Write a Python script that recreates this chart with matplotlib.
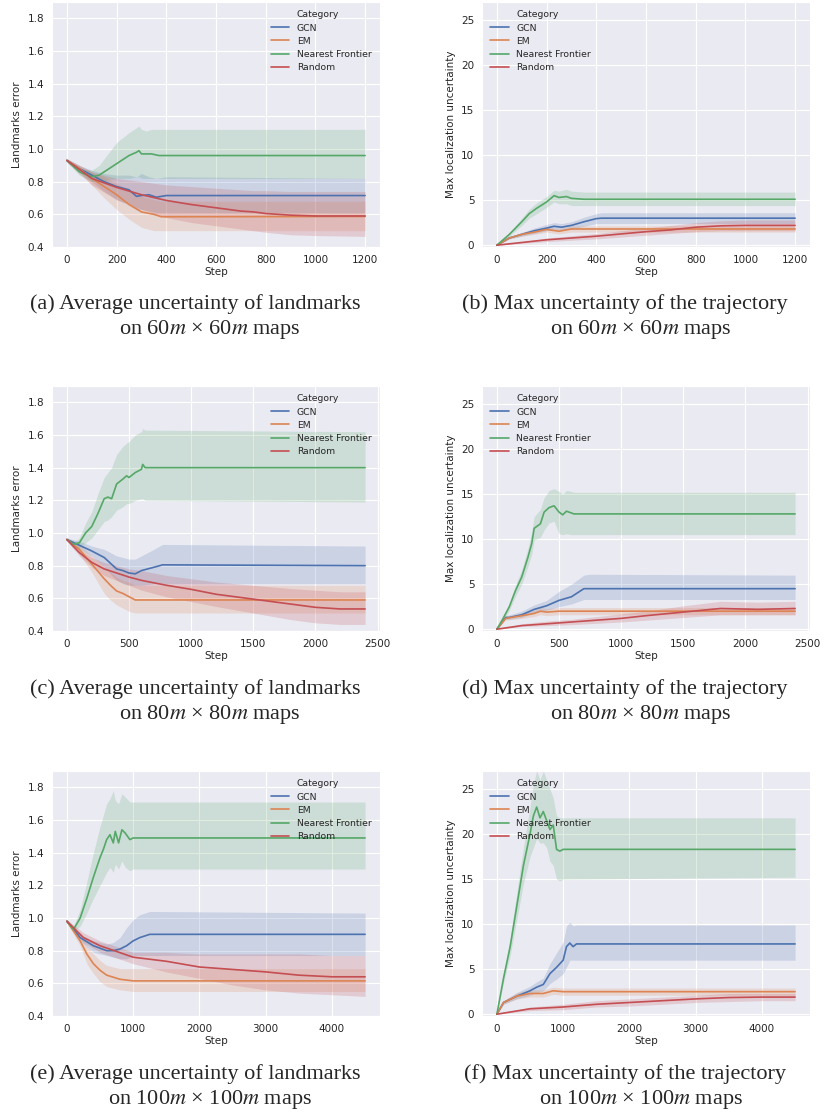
import matplotlib
matplotlib.use('Agg')
import matplotlib.pyplot as plt
import seaborn as sns
from matplotlib.lines import Line2D

sns.set_style('darkgrid')
plt.rcParams['font.family'] = ['DejaVu Sans']
plt.rcParams['mathtext.fontset'] = 'stix'

categories = ['GCN', 'EM', 'Nearest Frontier', 'Random']
colours = ['#4c72b0', '#dd8452', '#55a868', '#c44e52']

# rows are (step, mean, lower, upper)
# (a) landmarks error, 60m maps
a_gcn = [(0, 0.93, 0.92, 0.94), (50, 0.88, 0.86, 0.90), (100, 0.84, 0.80, 0.87),
         (150, 0.80, 0.74, 0.85), (200, 0.77, 0.69, 0.84), (250, 0.75, 0.66, 0.84),
         (280, 0.71, 0.63, 0.83), (300, 0.715, 0.63, 0.85), (330, 0.72, 0.62, 0.83),
         (360, 0.705, 0.61, 0.82), (400, 0.715, 0.61, 0.83), (1200, 0.715, 0.61, 0.82)]
a_em = [(0, 0.93, 0.92, 0.94), (50, 0.88, 0.86, 0.90), (100, 0.82, 0.78, 0.86),
        (150, 0.77, 0.70, 0.83), (200, 0.72, 0.63, 0.79), (250, 0.66, 0.57, 0.75),
        (300, 0.615, 0.52, 0.71), (350, 0.60, 0.50, 0.69), (380, 0.585, 0.50, 0.68),
        (1200, 0.587, 0.50, 0.68)]
a_nf = [(0, 0.93, 0.92, 0.94), (50, 0.86, 0.84, 0.88), (100, 0.83, 0.80, 0.87),
        (130, 0.84, 0.80, 0.90), (160, 0.87, 0.81, 0.96), (200, 0.91, 0.82, 1.04),
        (250, 0.96, 0.82, 1.10), (280, 0.98, 0.83, 1.13), (290, 0.99, 0.83, 1.14),
        (300, 0.97, 0.82, 1.12), (320, 0.97, 0.82, 1.11), (340, 0.97, 0.82, 1.12),
        (370, 0.96, 0.82, 1.12), (1200, 0.96, 0.82, 1.12)]
a_rand = [(0, 0.93, 0.92, 0.94), (100, 0.82, 0.78, 0.86), (200, 0.765, 0.69, 0.82),
          (300, 0.72, 0.63, 0.80), (400, 0.685, 0.58, 0.78), (500, 0.66, 0.55, 0.77),
          (600, 0.64, 0.53, 0.76), (700, 0.62, 0.51, 0.75), (750, 0.615, 0.50, 0.745),
          (800, 0.605, 0.49, 0.745), (900, 0.595, 0.475, 0.74), (1000, 0.59, 0.47, 0.74),
          (1200, 0.59, 0.465, 0.74)]

# (b) max localization uncertainty, 60m maps
b_gcn = [(0, 0, 0, 0), (50, 0.8, 0.7, 0.9), (100, 1.2, 1.0, 1.4), (150, 1.6, 1.3, 1.9),
         (200, 1.9, 1.6, 2.3), (230, 2.1, 1.8, 2.5), (260, 2.0, 1.7, 2.4),
         (300, 2.2, 1.8, 2.6), (350, 2.6, 2.1, 3.1), (400, 2.95, 2.4, 3.5),
         (420, 3.0, 2.4, 3.6), (1200, 3.0, 2.4, 3.6)]
b_em = [(0, 0, 0, 0), (50, 0.8, 0.7, 0.9), (100, 1.2, 1.0, 1.4), (150, 1.45, 1.2, 1.7),
        (200, 1.75, 1.45, 2.05), (250, 1.55, 1.25, 1.85), (300, 1.8, 1.45, 2.15),
        (400, 1.8, 1.45, 2.15), (1200, 1.8, 1.45, 2.15)]
b_nf = [(0, 0, 0, 0), (50, 1.2, 1.0, 1.4), (100, 2.6, 2.2, 3.0), (130, 3.5, 3.0, 4.0),
        (160, 4.1, 3.5, 4.7), (200, 4.8, 4.2, 5.4), (230, 5.5, 4.8, 6.1),
        (250, 5.3, 4.6, 6.0), (280, 5.4, 4.6, 6.2), (300, 5.2, 4.4, 6.0),
        (350, 5.1, 4.4, 5.9), (1200, 5.1, 4.4, 5.9)]
b_rand = [(0, 0, 0, 0), (200, 0.6, 0.4, 0.8), (400, 1.0, 0.7, 1.3), (600, 1.5, 1.1, 1.9),
          (700, 1.7, 1.3, 2.2), (800, 2.0, 1.5, 2.5), (900, 2.15, 1.6, 2.7),
          (1000, 2.2, 1.6, 2.8), (1200, 2.2, 1.6, 2.8)]

# (c) landmarks error, 80m maps
c_gcn = [(0, 0.96, 0.95, 0.97), (100, 0.925, 0.90, 0.95), (200, 0.89, 0.86, 0.92),
         (300, 0.85, 0.79, 0.90), (400, 0.78, 0.71, 0.86), (450, 0.77, 0.69, 0.85),
         (500, 0.755, 0.68, 0.84), (550, 0.75, 0.68, 0.84), (600, 0.77, 0.68, 0.86),
         (700, 0.79, 0.69, 0.90), (770, 0.805, 0.69, 0.93), (2400, 0.80, 0.69, 0.92)]
c_em = [(0, 0.96, 0.95, 0.97), (100, 0.90, 0.87, 0.93), (200, 0.81, 0.76, 0.86),
        (300, 0.72, 0.63, 0.79), (350, 0.68, 0.59, 0.76), (400, 0.645, 0.56, 0.73),
        (450, 0.63, 0.54, 0.71), (500, 0.61, 0.52, 0.70), (550, 0.59, 0.51, 0.68),
        (2400, 0.59, 0.51, 0.68)]
c_nf = [(0, 0.96, 0.95, 0.97), (50, 0.93, 0.92, 0.94), (100, 0.94, 0.91, 0.97),
        (150, 1.00, 0.94, 1.06), (200, 1.04, 0.97, 1.13), (250, 1.12, 1.02, 1.24),
        (300, 1.21, 1.07, 1.34), (330, 1.22, 1.08, 1.37), (360, 1.21, 1.10, 1.40),
        (400, 1.30, 1.14, 1.48), (450, 1.33, 1.16, 1.53), (480, 1.35, 1.18, 1.55),
        (500, 1.34, 1.18, 1.56), (550, 1.37, 1.20, 1.60), (600, 1.39, 1.21, 1.62),
        (610, 1.42, 1.21, 1.64), (630, 1.40, 1.20, 1.63), (2400, 1.40, 1.19, 1.62)]
c_rand = [(0, 0.96, 0.95, 0.97), (100, 0.88, 0.86, 0.90), (200, 0.82, 0.79, 0.85),
          (300, 0.78, 0.74, 0.82), (400, 0.755, 0.71, 0.80), (500, 0.73, 0.68, 0.78),
          (600, 0.71, 0.65, 0.77), (800, 0.68, 0.61, 0.74), (1000, 0.655, 0.58, 0.72),
          (1200, 0.625, 0.55, 0.70), (1500, 0.595, 0.51, 0.68), (1800, 0.565, 0.47, 0.66),
          (2000, 0.545, 0.45, 0.65), (2200, 0.535, 0.44, 0.64), (2400, 0.535, 0.44, 0.64)]

# (d) max localization uncertainty, 80m maps
d_gcn = [(0, 0, 0, 0), (70, 1.3, 1.1, 1.5), (100, 1.3, 1.1, 1.6), (200, 1.6, 1.3, 2.0),
         (300, 2.2, 1.8, 2.7), (400, 2.6, 2.1, 3.2), (500, 3.2, 2.5, 4.2),
         (600, 3.6, 2.8, 5.0), (700, 4.5, 3.3, 6.0), (750, 4.5, 3.3, 6.1),
         (2400, 4.5, 3.3, 6.0)]
d_em = [(0, 0, 0, 0), (70, 1.2, 1.0, 1.4), (200, 1.5, 1.2, 1.8), (300, 1.75, 1.4, 2.1),
        (350, 2.0, 1.6, 2.4), (400, 1.9, 1.5, 2.3), (500, 2.0, 1.6, 2.4),
        (2400, 2.0, 1.6, 2.4)]
d_nf = [(0, 0, 0, 0), (50, 1.2, 1.0, 1.4), (100, 2.5, 2.1, 2.9), (150, 4.3, 3.7, 4.9),
        (200, 5.8, 5.0, 6.6), (250, 8.0, 7.0, 9.0), (280, 9.5, 8.3, 10.8),
        (300, 11.2, 9.9, 12.5), (350, 11.7, 10.2, 13.3), (380, 13.0, 11.0, 14.6),
        (420, 13.5, 11.8, 15.4), (460, 13.7, 12.0, 15.6), (500, 13.0, 10.6, 15.3),
        (530, 12.7, 10.5, 15.0), (560, 13.1, 10.6, 15.4), (600, 12.9, 10.5, 15.3),
        (620, 12.8, 10.5, 15.2), (2400, 12.8, 10.5, 15.2)]
d_rand = [(0, 0, 0, 0), (200, 0.4, 0.3, 0.6), (400, 0.6, 0.4, 0.9), (600, 0.8, 0.5, 1.1),
          (1000, 1.2, 0.8, 1.7), (1200, 1.5, 1.0, 2.0), (1500, 1.9, 1.3, 2.6),
          (1800, 2.3, 1.6, 3.1), (2100, 2.2, 1.6, 3.0), (2400, 2.3, 1.6, 3.1)]

# (e) landmarks error, 100m maps
e_gcn = [(0, 0.98, 0.97, 0.99), (200, 0.88, 0.86, 0.90), (400, 0.83, 0.79, 0.86),
         (600, 0.80, 0.77, 0.84), (700, 0.80, 0.76, 0.85), (800, 0.81, 0.75, 0.88),
         (900, 0.83, 0.75, 0.94), (1000, 0.86, 0.77, 0.99), (1100, 0.88, 0.77, 1.02),
         (1250, 0.90, 0.77, 1.04), (4500, 0.90, 0.77, 1.03)]
e_em = [(0, 0.98, 0.97, 0.99), (200, 0.86, 0.83, 0.89), (300, 0.78, 0.72, 0.83),
        (400, 0.72, 0.66, 0.78), (500, 0.68, 0.61, 0.74), (600, 0.65, 0.58, 0.71),
        (800, 0.625, 0.56, 0.69), (1000, 0.615, 0.55, 0.69), (4500, 0.615, 0.55, 0.69)]
e_nf = [(0, 0.98, 0.97, 0.99), (100, 0.93, 0.92, 0.95), (200, 1.00, 0.95, 1.05),
        (300, 1.12, 1.03, 1.22), (400, 1.25, 1.12, 1.40), (500, 1.37, 1.20, 1.56),
        (550, 1.42, 1.24, 1.63), (600, 1.48, 1.28, 1.70), (650, 1.51, 1.31, 1.73),
        (700, 1.46, 1.28, 1.78), (730, 1.53, 1.33, 1.72), (780, 1.46, 1.30, 1.70),
        (830, 1.54, 1.35, 1.76), (880, 1.52, 1.31, 1.74), (950, 1.48, 1.29, 1.71),
        (1000, 1.49, 1.30, 1.71), (4500, 1.49, 1.30, 1.71)]
e_rand = [(0, 0.98, 0.97, 0.99), (250, 0.88, 0.85, 0.91), (500, 0.83, 0.79, 0.86),
          (1000, 0.76, 0.72, 0.79), (1500, 0.735, 0.67, 0.79), (2000, 0.70, 0.63, 0.78),
          (2500, 0.685, 0.59, 0.78), (3000, 0.67, 0.56, 0.78), (3500, 0.65, 0.54, 0.78),
          (4000, 0.64, 0.53, 0.77), (4500, 0.64, 0.52, 0.77)]

# (f) max localization uncertainty, 100m maps
f_gcn = [(0, 0, 0, 0), (100, 1.3, 1.1, 1.5), (300, 2.0, 1.7, 2.4), (500, 2.6, 2.1, 3.1),
         (600, 3.0, 2.4, 3.6), (700, 3.3, 2.6, 4.0), (800, 4.5, 3.4, 5.6),
         (900, 5.2, 3.9, 6.8), (1000, 6.0, 4.5, 8.0), (1050, 7.5, 5.2, 9.8),
         (1100, 7.9, 6.0, 10.2), (1150, 7.5, 6.0, 9.8), (1200, 7.8, 6.0, 9.9),
         (4500, 7.8, 6.0, 9.9)]
f_em = [(0, 0, 0, 0), (100, 1.3, 1.1, 1.5), (300, 2.0, 1.7, 2.4), (500, 2.3, 1.9, 2.7),
        (700, 2.3, 1.9, 2.7), (850, 2.6, 2.2, 3.0), (1000, 2.5, 2.1, 2.9),
        (4500, 2.5, 2.1, 2.9)]
f_nf = [(0, 0, 0, 0), (100, 4.0, 3.5, 4.5), (200, 7.5, 6.5, 8.5), (300, 12.0, 10.5, 13.5),
        (400, 16.5, 14.5, 18.5), (500, 20.0, 17.5, 23.0), (550, 22.0, 18.5, 25.5),
        (600, 23.0, 19.5, 27.0), (650, 21.8, 19.0, 26.0), (700, 22.5, 19.0, 27.0),
        (750, 21.5, 18.5, 26.0), (800, 20.5, 17.0, 25.0), (850, 21.0, 16.5, 24.0),
        (900, 18.3, 15.0, 22.0), (950, 18.1, 14.8, 21.8), (1000, 18.3, 15.0, 21.8),
        (4500, 18.3, 15.2, 21.8)]
f_rand = [(0, 0, 0, 0), (500, 0.6, 0.4, 0.8), (1000, 0.8, 0.5, 1.1), (1500, 1.1, 0.8, 1.5),
          (2000, 1.3, 0.9, 1.7), (2500, 1.5, 1.1, 1.9), (3000, 1.7, 1.3, 2.1),
          (3500, 1.85, 1.4, 2.3), (4000, 1.9, 1.5, 2.3), (4500, 1.9, 1.5, 2.3)]

captions = [
    ('(a) Average uncertainty of landmarks', 'on 60$m$ × 60$m$ maps'),
    ('(b) Max uncertainty of the trajectory', 'on 60$m$ × 60$m$ maps'),
    ('(c) Average uncertainty of landmarks', 'on 80$m$ × 80$m$ maps'),
    ('(d) Max uncertainty of the trajectory', 'on 80$m$ × 80$m$ maps'),
    ('(e) Average uncertainty of landmarks', 'on 100$m$ × 100$m$ maps'),
    ('(f) Max uncertainty of the trajectory', 'on 100$m$ × 100$m$ maps'),
]

panels = [[a_gcn, a_em, a_nf, a_rand], [b_gcn, b_em, b_nf, b_rand],
          [c_gcn, c_em, c_nf, c_rand], [d_gcn, d_em, d_nf, d_rand],
          [e_gcn, e_em, e_nf, e_rand], [f_gcn, f_em, f_nf, f_rand]]

W, H = 824, 1115
fig = plt.figure(figsize=(8.24, 11.15), dpi=100)

col_left = [52, 482]
row_top = [2, 386, 771]
ax_w, ax_h = 328, 245
fs = 7.5

for i, series in enumerate(panels):
    r, c = i // 2, i % 2
    ax = fig.add_axes([col_left[c] / W, 1 - (row_top[r] + ax_h) / H, ax_w / W, ax_h / H])
    for name, rows, col in zip(categories, series, colours):
        x = [p[0] for p in rows]
        y = [p[1] for p in rows]
        lo = [p[2] for p in rows]
        hi = [p[3] for p in rows]
        ax.fill_between(x, lo, hi, color=col, alpha=0.2, lw=0)
        ax.plot(x, y, color=col, lw=1.2, label=name)
    if c == 0:
        ax.set_ylim(0.4, 1.9)
        ax.set_yticks([0.4, 0.6, 0.8, 1.0, 1.2, 1.4, 1.6, 1.8])
        ax.set_ylabel('Landmarks error', fontsize=fs)
        loc = 'upper right'
    else:
        ax.set_ylim(-0.2, 27)
        ax.set_yticks([0, 5, 10, 15, 20, 25])
        ax.set_ylabel('Max localization uncertainty', fontsize=fs)
        loc = 'upper left'
    ax.set_xlabel('Step', fontsize=fs, labelpad=2)
    ax.tick_params(labelsize=fs, pad=2)
    handles, labels = ax.get_legend_handles_labels()
    blank = Line2D([], [], color='none')
    ax.legend([blank] + handles, ['Category'] + labels, loc=loc, fontsize=6.7,
              frameon=False, labelspacing=0.45)

    cx1 = 195 if c == 0 else 624.5
    cx2 = 210 if c == 0 else 640.5
    y1 = [309, 694, 1079][r]
    fig.text(cx1 / W, 1 - y1 / H, captions[i][0], ha='center', va='baseline',
             family='Liberation Serif', fontsize=16)
    fig.text(cx2 / W, 1 - (y1 + 25) / H, captions[i][1], ha='center', va='baseline',
             family='Liberation Serif', fontsize=16)

fig.savefig('out.png', dpi=100)
